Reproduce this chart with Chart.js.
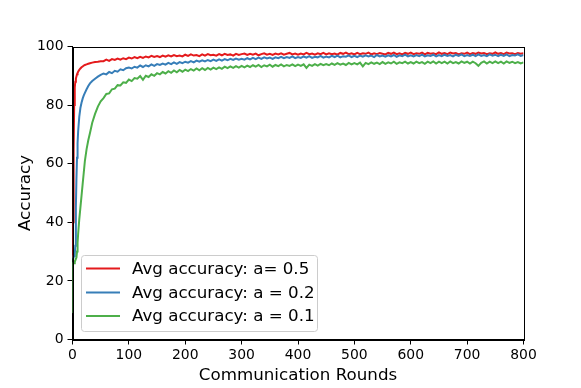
<!DOCTYPE html>
<html>
<head>
<meta charset="utf-8">
<script src="https://cdn.jsdelivr.net/npm/chart.js@4.4.1/dist/chart.umd.min.js"></script>
<style>
  html, body { margin: 0; padding: 0; background: #fff; }
  #wrap { width: 581px; height: 388px; }
</style>
</head>
<body>
<div id="wrap"><canvas id="c" width="581" height="388"></canvas></div>
<script>
const rounds = [0,1,2,3,4,5,6,7,8,9,10,12,14,16,18,20,22,25,28,31,35,40,45,50,
  55,60,65,70,75,80,85,90,95,100,
  105,110,115,120,125,130,135,140,145,150,
  155,160,165,170,175,180,185,190,195,200,
  205,210,215,220,225,230,235,240,245,250,
  255,260,265,270,275,280,285,290,295,300,
  305,310,315,320,325,330,335,340,345,350,
  355,360,365,370,375,380,385,390,395,400,
  405,410,415,420,425,430,435,440,445,450,
  455,460,465,470,475,480,485,490,495,500,
  505,510,515,520,525,530,535,540,545,550,
  555,560,565,570,575,580,585,590,595,600,
  605,610,615,620,625,630,635,640,645,650,
  655,660,665,670,675,680,685,690,695,700,
  705,710,715,720,725,730,735,740,745,750,
  755,760,765,770,775,780,785,790,795,800];

const accA05 = [28,40,65,80,86,88,89,89.8,90.5,91,91.4,92,92.5,92.9,93.2,93.5,93.7,93.9,94.1,94.3,94.5,94.7,94.8,95.0,
  95.0,95.5,95.1,95.7,95.4,95.9,95.5,96.0,95.7,96.2,
  95.9,96.4,96.0,96.5,96.1,96.6,96.3,96.8,96.4,96.7,
  96.4,96.9,96.5,97.0,96.6,97.1,96.7,96.9,96.6,97.2,
  96.8,97.3,96.9,97.1,96.7,97.3,96.9,97.4,97.0,97.2,
  96.9,97.4,97.0,97.5,97.1,97.3,96.9,97.5,97.1,97.4,
  97.6,97.1,97.5,97.2,97.6,97.0,97.4,97.7,97.2,97.5,
  97.1,97.6,97.3,97.7,97.2,97.5,97.8,97.3,97.6,97.2,
  97.6,97.3,97.8,97.4,97.6,97.2,97.7,97.4,97.8,97.3,
  97.7,97.4,97.6,97.2,97.8,97.5,97.9,97.4,97.7,97.3,
  97.8,97.4,97.7,97.5,97.9,97.3,97.7,97.4,97.8,97.5,
  97.3,97.8,97.5,97.9,97.4,97.7,97.3,97.8,97.5,97.9,
  97.4,97.7,97.5,97.9,97.3,97.8,97.5,97.7,97.4,98.0,
  97.5,97.8,97.4,97.9,97.6,97.8,97.3,97.7,97.5,97.9,
  97.4,97.8,97.5,97.9,97.6,97.8,97.4,97.7,97.5,98.0,
  97.5,97.8,97.4,97.9,97.6,97.7,97.4,97.8,97.5,97.7];

const accA02 = [28,28,28.5,28.5,29,32,45,55,62,67,71,76,79,80.8,82.2,83.3,84.2,85.4,86.5,87.4,88.2,89.0,89.7,90.3,
  90.8,90.5,91.3,90.9,91.7,91.4,92.2,91.9,92.6,92.8,
  92.5,93.1,92.8,93.5,93.0,93.6,93.2,93.9,93.4,94.0,
  93.7,94.2,93.8,94.4,94.0,94.6,94.1,94.7,94.3,94.8,
  94.5,95.0,94.6,95.2,94.8,95.3,94.9,95.4,95.0,95.5,
  95.1,95.6,95.2,95.7,95.3,95.8,95.4,95.9,95.5,95.8,
  95.5,96.0,95.6,96.1,95.7,96.2,95.8,96.3,95.9,96.2,
  95.8,96.3,96.0,96.5,96.0,96.4,96.1,96.6,96.0,96.4,
  96.1,96.6,96.2,96.7,96.1,96.5,96.3,96.8,96.2,96.6,
  96.3,96.8,96.4,96.9,96.3,96.7,96.5,97.0,96.4,96.8,
  96.4,96.9,96.5,97.0,96.6,96.9,96.4,97.1,96.6,96.9,
  96.5,97.0,96.6,97.1,96.5,97.0,96.7,97.2,96.6,97.0,
  96.6,97.1,96.7,97.2,96.6,97.0,96.8,97.2,96.6,97.1,
  96.7,97.2,96.8,97.1,96.6,97.2,96.8,97.3,96.7,97.1,
  96.8,97.2,96.7,97.3,96.8,97.1,96.7,97.3,96.9,97.2,
  96.7,97.2,96.8,97.3,96.7,97.1,96.9,97.3,96.8,97.1];

const accA01 = [9,26,26.5,26,26.5,27,27,28,30,33,36,41,45,49,53,57,61,65,68,70.5,74,77,79.5,81.3,
  82.4,83.8,84.0,85.4,85.6,86.8,86.7,87.8,87.6,88.7,
  88.2,89.2,89.0,89.9,88.6,90.0,89.6,90.5,90.0,90.9,
  90.5,91.3,90.8,91.6,91.0,91.8,91.2,92.0,91.4,92.1,
  91.6,92.3,91.8,92.5,91.9,92.6,92.0,92.7,92.1,92.8,
  92.3,92.9,92.4,93.1,92.6,93.2,92.7,93.3,92.8,93.4,
  92.9,93.5,93.0,93.6,93.1,93.7,93.0,93.6,93.2,93.8,
  93.1,93.7,93.3,93.9,93.2,93.7,93.4,93.9,93.3,93.8,
  93.4,93.9,92.7,93.8,93.4,94.0,93.5,94.1,93.6,94.0,
  93.6,94.2,93.7,94.3,93.8,94.2,93.7,94.4,93.9,94.3,
  93.9,94.5,93.2,94.4,94.0,94.6,94.1,94.5,94.0,94.7,
  94.1,94.6,94.2,94.8,94.1,94.6,94.3,94.8,94.2,94.7,
  94.2,94.8,94.3,94.7,94.1,94.8,94.3,94.9,94.2,94.8,
  94.3,94.8,94.2,94.9,94.3,94.7,94.2,94.9,94.4,94.8,
  94.2,94.8,94.3,93.4,94.4,94.9,94.2,94.8,94.3,94.9,
  94.3,94.8,94.2,94.9,94.4,94.8,94.3,94.7,94.2,94.6];

const seriesLabels = ['Avg accuracy: a= 0.5', 'Avg accuracy: a = 0.2', 'Avg accuracy: a = 0.1'];
const seriesColors = ['#e41a1c', '#377eb8', '#4daf4a'];
const xTicks = [0,100,200,300,400,500,600,700,800];
const yTicks = [0,20,40,60,80,100];

const allSeries = [accA05, accA02, accA01];
const toPoints = arr => arr.map((v, i) => ({ x: rounds[i], y: v }));

const FONT = "'DejaVu Sans', sans-serif";

const framePlugin = {
  id: 'frameAndLegend',
  afterDraw(chart) {
    const ctx = chart.ctx;
    const a = chart.chartArea;
    ctx.save();
    ctx.strokeStyle = '#000';
    ctx.lineWidth = 1;
    ctx.strokeRect(Math.round(a.left) + 0.5, Math.round(a.top) + 0.5,
                   Math.round(a.right) - Math.round(a.left), Math.round(a.bottom) - Math.round(a.top));
    // legend
    const bx = 81.5, by = 255.5, bw = 236, bh = 76, r = 3;
    ctx.beginPath();
    ctx.moveTo(bx + r, by);
    ctx.lineTo(bx + bw - r, by);
    ctx.quadraticCurveTo(bx + bw, by, bx + bw, by + r);
    ctx.lineTo(bx + bw, by + bh - r);
    ctx.quadraticCurveTo(bx + bw, by + bh, bx + bw - r, by + bh);
    ctx.lineTo(bx + r, by + bh);
    ctx.quadraticCurveTo(bx, by + bh, bx, by + bh - r);
    ctx.lineTo(bx, by + r);
    ctx.quadraticCurveTo(bx, by, bx + r, by);
    ctx.closePath();
    ctx.fillStyle = 'rgba(255,255,255,0.8)';
    ctx.fill();
    ctx.strokeStyle = '#cccccc';
    ctx.stroke();
    const rowsY = [268.5, 292.5, 316];
    ctx.font = '16.7px ' + FONT;
    ctx.textBaseline = 'middle';
    ctx.textAlign = 'left';
    chart.data.datasets.forEach((ds, i) => {
      ctx.strokeStyle = ds.borderColor;
      ctx.lineWidth = 2;
      ctx.beginPath();
      ctx.moveTo(86, rowsY[i]);
      ctx.lineTo(120, rowsY[i]);
      ctx.stroke();
      ctx.fillStyle = '#000';
      ctx.fillText(ds.label, 132, rowsY[i] + 1);
    });
    ctx.restore();
  }
};

new Chart(document.getElementById('c'), {
  type: 'line',
  data: {
    datasets: allSeries.map((arr, i) => ({
      label: seriesLabels[i],
      data: toPoints(arr),
      borderColor: seriesColors[i],
      backgroundColor: seriesColors[i],
      borderWidth: 2,
      pointRadius: 0,
      tension: 0,
      fill: false,
      order: 3 - i
    }))
  },
  options: {
    responsive: false,
    animation: false,
    devicePixelRatio: 1,
    layout: { padding: { left: 0, top: 46.5, right: 57.5, bottom: 0 } },
    plugins: { legend: { display: false }, tooltip: { enabled: false } },
    scales: {
      x: {
        type: 'linear',
        min: 0, max: 800,
        afterFit: s => { s.height = 48.5; },
        afterBuildTicks: s => { s.ticks = xTicks.map(v => ({ value: v })); },
        ticks: { color: '#000', font: { family: FONT, size: 13.9 }, padding: 3, maxRotation: 0 },
        grid: { drawOnChartArea: false, drawTicks: true, tickLength: 5, tickColor: '#000', color: '#000' },
        border: { display: true, color: '#000', width: 1 },
        title: { display: true, text: 'Communication Rounds', color: '#000',
                 font: { family: FONT, size: 16.7 }, padding: { top: 0, bottom: 2 } }
      },
      y: {
        type: 'linear',
        min: 0, max: 100,
        afterFit: s => { s.width = 72.5; },
        afterBuildTicks: s => { s.ticks = yTicks.map(v => ({ value: v })); },
        ticks: { color: '#000', font: { family: FONT, size: 13.9 }, padding: 4 },
        grid: { drawOnChartArea: false, drawTicks: true, tickLength: 5, tickColor: '#000', color: '#000' },
        border: { display: true, color: '#000', width: 1 },
        title: { display: true, text: 'Accuracy', color: '#000',
                 font: { family: FONT, size: 16.7 }, padding: { top: 15.5, bottom: 0 } }
      }
    }
  },
  plugins: [framePlugin]
});
</script>
</body>
</html>
